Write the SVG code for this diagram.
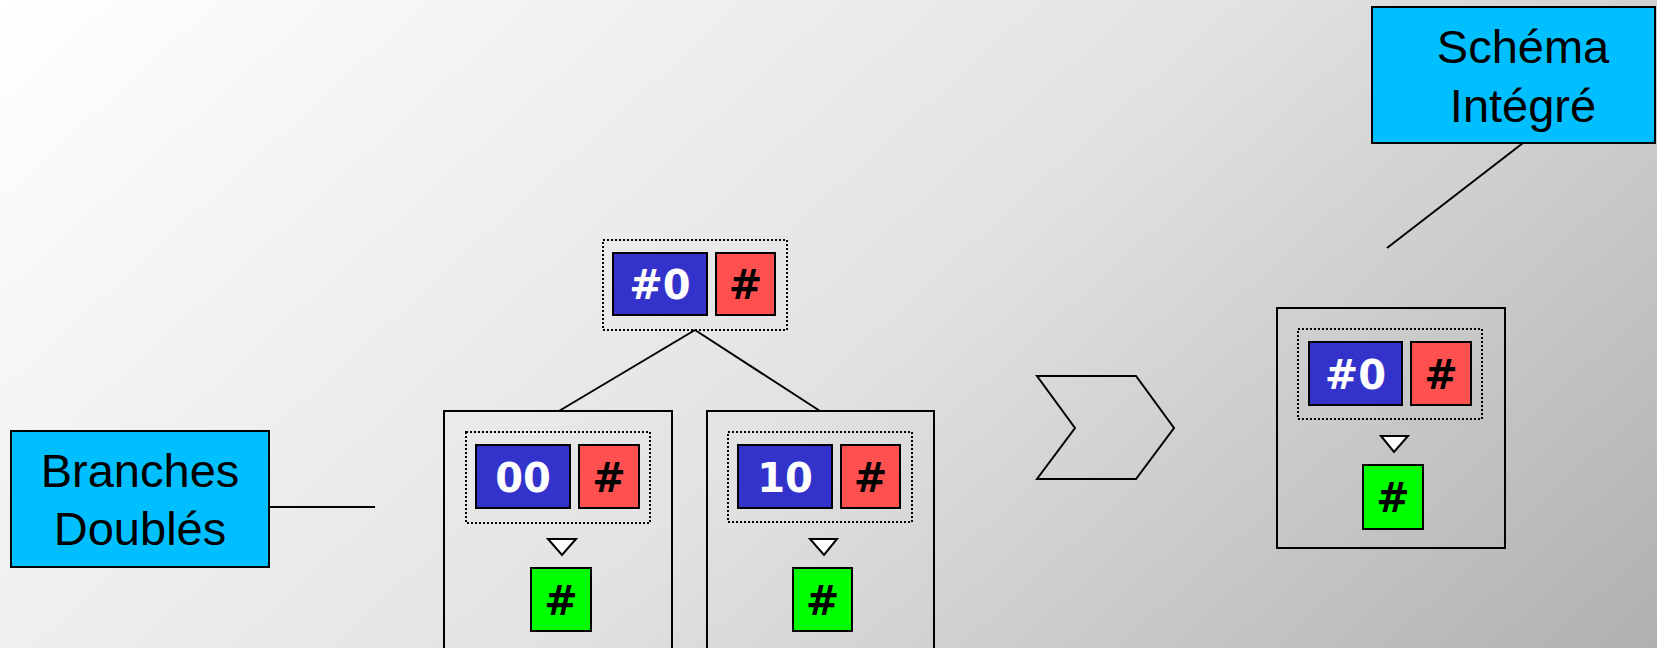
<svg xmlns="http://www.w3.org/2000/svg" width="1657" height="648" viewBox="0 0 1657 648">
<defs>
<linearGradient id="bg" gradientUnits="userSpaceOnUse" x1="0" y1="0" x2="1072" y2="1180">
<stop offset="0" stop-color="#ffffff"/>
<stop offset="0.3" stop-color="#efefef"/>
<stop offset="0.53" stop-color="#e2e2e2"/>
<stop offset="1" stop-color="#b0b0b0"/>
</linearGradient>
<style>
.frame{fill:none;stroke:#000;stroke-width:2}
.dot{fill:none;stroke:#000;stroke-width:2;stroke-dasharray:2 2}
.blue{fill:#3333cc;stroke:#000;stroke-width:2}
.red{fill:#ff5050;stroke:#000;stroke-width:2}
.green{fill:#00ff00;stroke:#000;stroke-width:2}
.tri{fill:#fff;stroke:#000;stroke-width:2}
.cyan{fill:#00bfff;stroke:#000;stroke-width:2}
.wl{font-family:"DejaVu Sans",sans-serif;font-weight:bold;font-size:40px;fill:#fff;text-anchor:middle}
.bl{font-family:"DejaVu Sans",sans-serif;font-weight:bold;font-size:40px;fill:#000;text-anchor:middle}
.lbl{font-family:"Liberation Sans",Arial,sans-serif;font-size:47px;fill:#000;text-anchor:middle}
.conn{stroke:#000;stroke-width:2;fill:none}
</style>
</defs>
<rect x="0" y="0" width="1657" height="648" fill="url(#bg)"/>

<g id="connectors">
<line class="conn" x1="695" y1="330" x2="559" y2="411"/>
<line class="conn" x1="695" y1="330" x2="820" y2="411"/>
<line class="conn" x1="269" y1="507" x2="375" y2="507"/>
<line class="conn" x1="1523" y1="143" x2="1387" y2="248"/>
</g>

<g id="root-node">
<rect class="dot" x="603" y="240" width="184" height="90"/>
<rect class="blue" x="613" y="253" width="94" height="62"/>
<text class="wl" x="660" y="299">#0</text>
<rect class="red" x="716" y="253" width="59" height="62"/>
<text class="bl" x="745.5" y="299">#</text>
</g>

<g id="branch-00">
<rect class="frame" x="444" y="411" width="228" height="250"/>
<rect class="dot" x="466" y="432" width="184" height="91"/>
<rect class="blue" x="476" y="445" width="94" height="63"/>
<text class="wl" x="523" y="492">00</text>
<rect class="red" x="579" y="445" width="60" height="63"/>
<text class="bl" x="609" y="492">#</text>
<polygon class="tri" points="548,539 576,539 562,555"/>
<rect class="green" x="531" y="568" width="60" height="63"/>
<text class="bl" x="561" y="615">#</text>
</g>

<g id="branch-10">
<rect class="frame" x="707" y="411" width="227" height="250"/>
<rect class="dot" x="728" y="432" width="184" height="90"/>
<rect class="blue" x="738" y="445" width="94" height="63"/>
<text class="wl" x="785" y="492">10</text>
<rect class="red" x="841" y="445" width="59" height="63"/>
<text class="bl" x="870.5" y="492">#</text>
<polygon class="tri" points="810,539 837,539 824,555"/>
<rect class="green" x="793" y="568" width="59" height="63"/>
<text class="bl" x="822.5" y="615">#</text>
</g>

<g id="chevron">
<polygon class="frame" points="1037,376 1136,376 1174,428 1136,479 1037,479 1075,428"/>
</g>

<g id="integrated">
<rect class="frame" x="1277" y="308" width="228" height="240"/>
<rect class="dot" x="1298" y="329" width="184" height="90"/>
<rect class="blue" x="1309" y="342" width="93" height="63"/>
<text class="wl" x="1355.5" y="389">#0</text>
<rect class="red" x="1411" y="342" width="60" height="63"/>
<text class="bl" x="1441" y="389">#</text>
<polygon class="tri" points="1381,436 1408,436 1394,452"/>
<rect class="green" x="1363" y="465" width="60" height="64"/>
<text class="bl" x="1393" y="512">#</text>
</g>

<g id="label-branches">
<rect class="cyan" x="11" y="431" width="258" height="136"/>
<text class="lbl" x="140" y="487">Branches</text>
<text class="lbl" x="140" y="545">Doublés</text>
</g>

<g id="label-schema">
<rect class="cyan" x="1372" y="7" width="283" height="136"/>
<text class="lbl" x="1523" y="63">Schéma</text>
<text class="lbl" x="1523" y="122">Intégré</text>
</g>
</svg>
